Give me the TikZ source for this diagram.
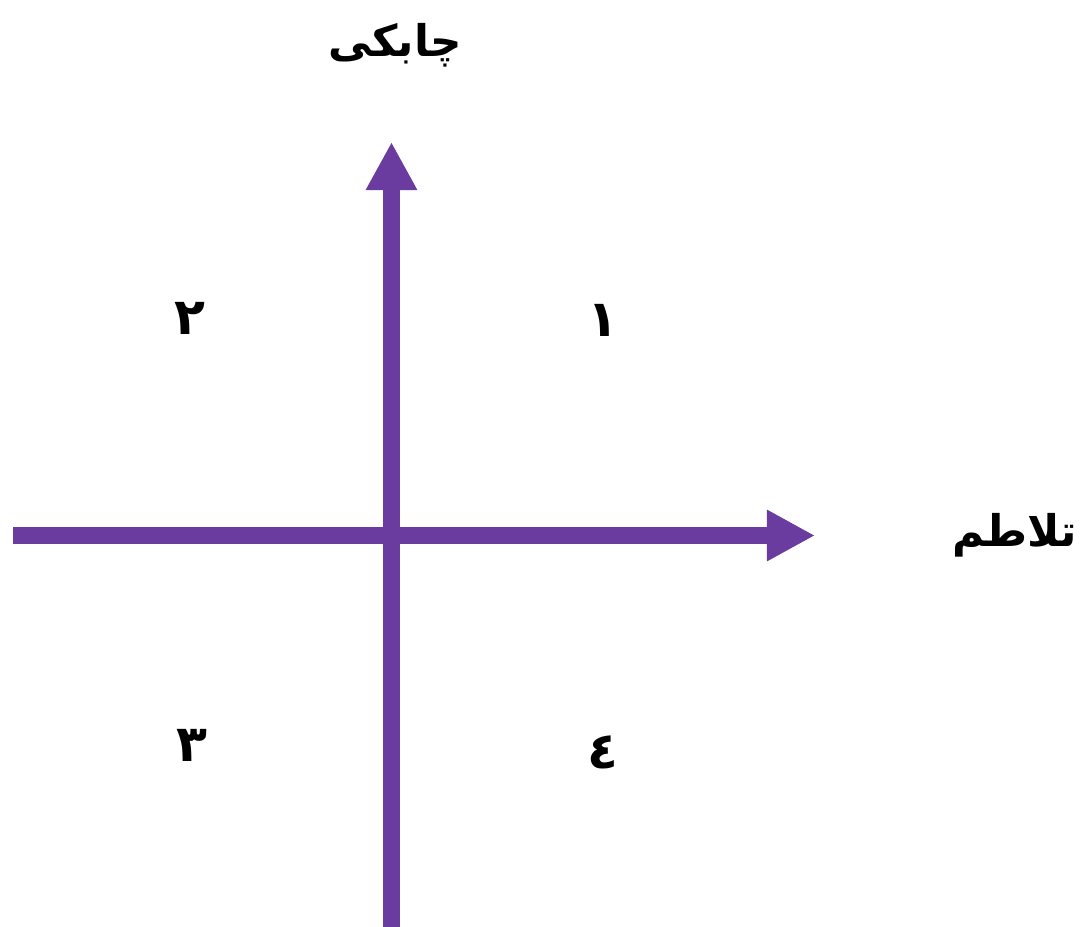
\documentclass[tikz,border=0pt]{standalone}
\usepackage{fontspec}
\usetikzlibrary{arrows.meta}
\TeXXeTstate=1
\newfontfamily\arabicfont[Script=Arabic]{DejaVu Sans}
\definecolor{axispurple}{HTML}{6A3CA0}
\definecolor{darkpurple}{HTML}{4B2579}

\begin{document}
\begin{tikzpicture}[x=0.025cm, y=-0.025cm,
		axisline/.style={line width=0.42cm, axispurple, -{Triangle[length=1.2cm, width=1.2cm]}},
		axisname/.style={font=\arabicfont\bfseries\fontsize{31}{37}\selectfont, text=black},
		quadnum/.style={font=\arabicfont\bfseries\fontsize{36}{42}\selectfont, text=black}]
	\useasboundingbox (0,0) rectangle (1081,927);
	% axis ends
	\coordinate (west) at (13,535.5);
	\coordinate (east) at (815,535.5);
	\coordinate (south) at (391.5,927);
	\coordinate (north) at (391.5,142);
	\draw[axisline] (west) -- (east);
	\draw[axisline] (south) -- (north);
	% axis names
	\node[axisname] (agility) at (395,45) {\beginR چابکی\endR};
	\node[axisname] (turbulence) at (1015,535) {\beginR تلاطم\endR};
	% quadrants
	\node[quadnum] (q1) at (603,320) {١};
	\node[quadnum] (q2) at (190,318) {٢};
	\node[quadnum] (q3) at (192,745) {٣};
	\node[quadnum] (q4) at (603,752) {٤};
\end{tikzpicture}
\end{document}
